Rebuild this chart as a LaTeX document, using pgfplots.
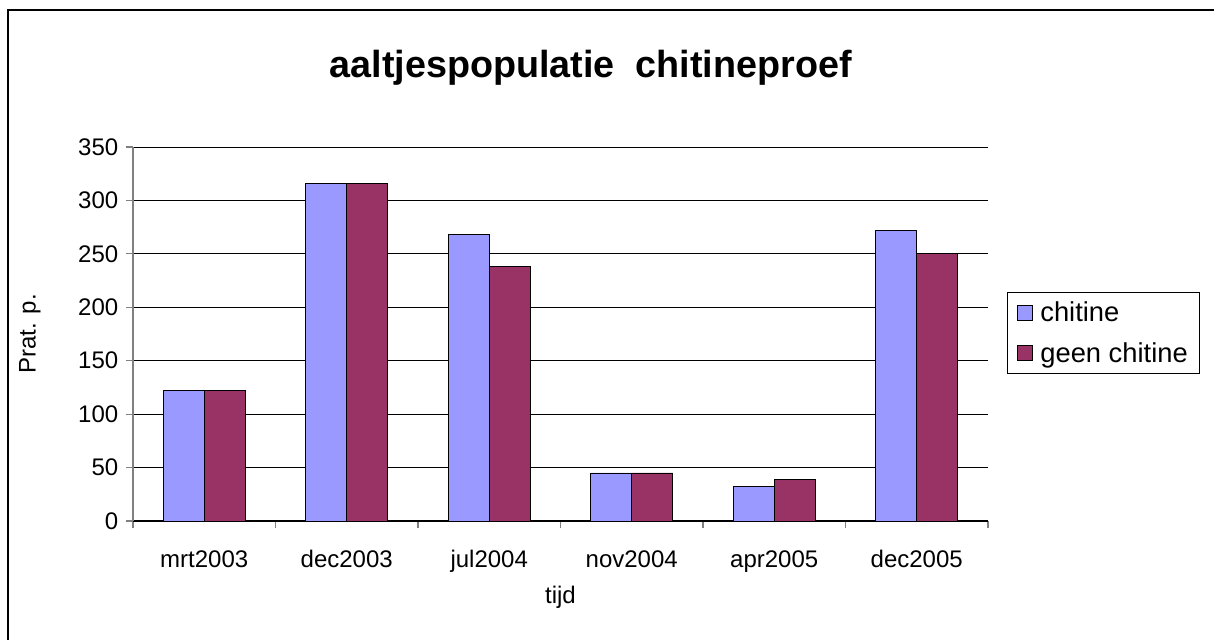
\documentclass[border=0pt]{standalone}
\usepackage{pgfplots}
\pgfplotsset{compat=1.18}
\usepackage{fontspec}
\setmainfont{Liberation Sans}
\definecolor{chit}{HTML}{9999FF}
\definecolor{geen}{HTML}{993366}
\begin{document}
\begin{tikzpicture}
\useasboundingbox (0,0) rectangle (910.5pt,480pt);
\fill[white] (0,0) rectangle (910.5pt,480pt);
\draw[black, line width=0.8pt] (6pt,0) -- (6pt,472.5pt) -- (910.5pt,472.5pt);
\node[font=\fontsize{28.3}{31}\selectfont\bfseries] at (443pt,429pt) {aaltjespopulatie~~chitineproef};
\begin{axis}[
  at={(99.75pt,89.25pt)}, anchor=south west,
  scale only axis, width=641.25pt, height=280.5pt,
  font=\fontsize{18}{21}\selectfont,
  /pgf/number format/assume math mode=true,
  ybar=0pt, bar width=30.75pt,
  xmin=-0.5, xmax=5.5, ymin=0, ymax=350,
  ytick={0,50,...,350},
  xtick={0,...,5},
  xticklabels={mrt2003,dec2003,jul2004,nov2004,apr2005,dec2005},
  minor xtick={-0.5,0.5,...,5.5},
  major x tick style={draw=none},
  minor x tick style={draw=gray, line width=0.8pt},
  y tick style={draw=gray, line width=0.8pt},
  tick align=outside,
  major tick length=5.5pt, minor tick length=5.5pt,
  axis x line*=bottom, axis y line*=left,
  x axis line style={black, line width=0.8pt, -},
  y axis line style={gray, line width=1pt, -},
  ymajorgrids, grid style={black, line width=0.6pt},
  xticklabel style={anchor=base, yshift=-29.2pt},
  yticklabel style={xshift=-2pt},
  xlabel={tijd}, ylabel={Prat. p.},
  every axis x label/.style={at={(axis description cs:0.5,-0.2032)}, anchor=center},
  every axis y label/.style={at={(axis description cs:-0.1205,0.5)}, anchor=center, rotate=90},
  legend style={at={(rel axis cs:1.0222,0.6123)}, anchor=north west,
    draw=black, line width=0.6pt, inner xsep=7pt, inner ysep=5pt,
    row sep=10pt, column sep=4pt, font=\fontsize{20.5}{24}\selectfont},
  legend image code/.code={\draw[#1, line width=0.5pt] (0pt,-5.6pt) rectangle (11.25pt,5.6pt);},
  legend cell align=left,
]
\addplot[fill=chit, draw=black, line width=0.6pt] coordinates {(0,122) (1,316) (2,268) (3,45) (4,32.5) (5,271.5)};
\addplot[fill=geen, draw=black, line width=0.6pt] coordinates {(0,122) (1,316) (2,238.5) (3,45) (4,39) (5,250)};
\legend{chitine, geen chitine}
\end{axis}
\end{tikzpicture}
\end{document}
